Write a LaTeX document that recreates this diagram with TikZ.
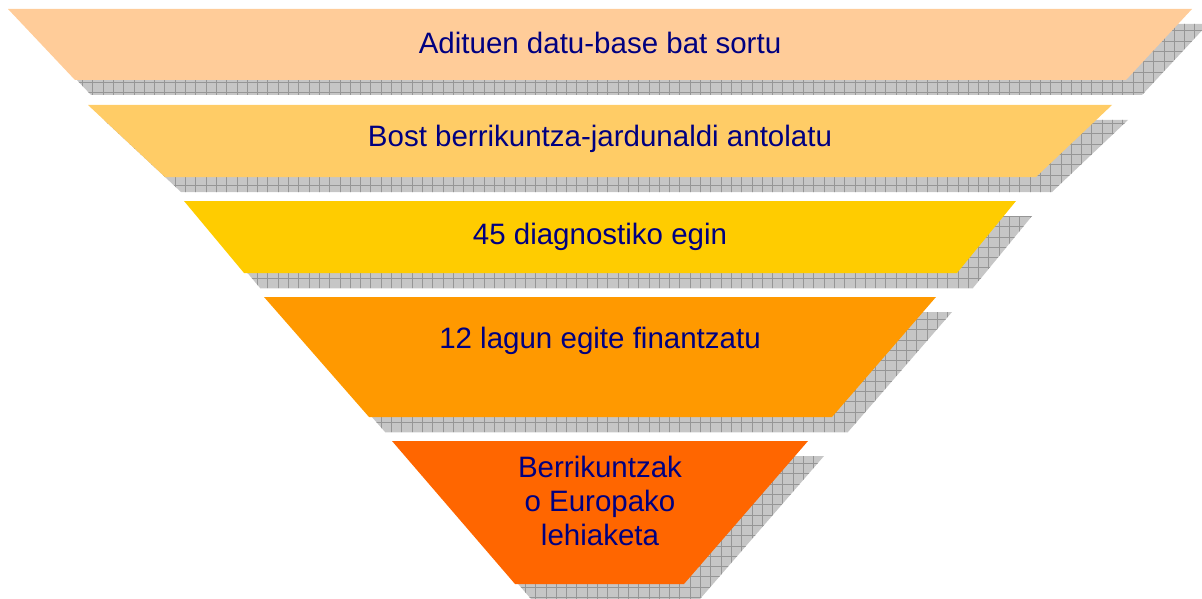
\documentclass[tikz,border=0pt]{standalone}
\usepackage{fontspec}
\setmainfont{Liberation Sans}
\definecolor{txtblue}{HTML}{000080}
\definecolor{cA}{HTML}{FFCC99}
\definecolor{cB}{HTML}{FFCC66}
\definecolor{cC}{HTML}{FFCC00}
\definecolor{cD}{HTML}{FF9900}
\definecolor{cE}{HTML}{FF6600}
\definecolor{shadefill}{HTML}{C6C6C6}
\definecolor{shadeline}{HTML}{969696}
% #1 top y, #2 bottom y, #3 top-left x, #4 top-right x, #5 bottom-left x, #6 bottom-right x, #7 colour
\newcommand\funnelband[7]{%
  \begin{scope}
    \clip ({#3+16},{#1+15}) -- ({#4+16},{#1+15}) -- ({#6+16},{#2+15}) -- ({#5+16},{#2+15}) -- cycle;
    \fill[shadefill] (0,0) rectangle (1202,599);
    \foreach \gx in {0,10.3,...,1202} {\draw[shadeline,line width=0.8pt] (\gx,0) -- (\gx,599);}
    \foreach \gy in {0,10.3,...,599} {\draw[shadeline,line width=0.8pt] (0,\gy) -- (1202,\gy);}
  \end{scope}
  \fill[#7] (#3,#1) -- (#4,#1) -- (#6,#2) -- (#5,#2) -- cycle;
}
\tikzset{
  bandtext/.style={text=txtblue,font=\fontsize{29.5}{34}\selectfont,align=center,inner sep=0pt}
}
\begin{document}
\begin{tikzpicture}[x=1pt,y=-1pt]
\useasboundingbox (0,0) rectangle (1202,599);
\funnelband{9}{80}{8}{1192}{75}{1126}{cA}
\funnelband{105}{177}{88}{1112}{165}{1036}{cB}
\funnelband{201}{273}{184}{1016}{244}{957}{cC}
\funnelband{297}{417}{264}{936}{369}{832}{cD}
\funnelband{441}{584}{392}{808}{515}{684}{cE}
\node[bandtext] (t1) at (600,43) {Adituen datu-base bat sortu};
\node[bandtext] (t2) at (600,139) {Bost berrikuntza-jardunaldi antolatu};
\node[bandtext] (t3) at (600,237) {45 diagnostiko egin};
\node[bandtext] (t4) at (600,341) {12 lagun egite finantzatu};
\node[bandtext] (t5) at (600,501) {Berrikuntzak\\o Europako\\lehiaketa};
\end{tikzpicture}
\end{document}
